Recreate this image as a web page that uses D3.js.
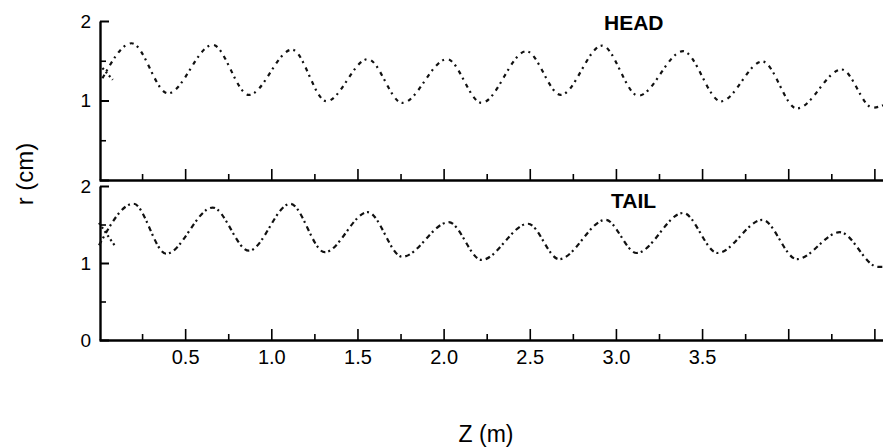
<!DOCTYPE html>
<html>
<head>
<meta charset="utf-8">
<script src="https://cdn.jsdelivr.net/npm/d3@7/dist/d3.min.js"></script>
<style>
  body { margin: 0; background: #fff; }
  text { font-family: "Liberation Sans", Arial, sans-serif; fill: #000; }
</style>
</head>
<body>
<svg id="chart" width="883" height="448"></svg>
<script>
// HEAD radius vs. axial position
const headZ = [0.02, 0.19, 0.40, 0.66, 0.87, 1.12, 1.32, 1.56, 1.76, 2.02, 2.22, 2.48, 2.68, 2.92, 3.13, 3.39, 3.61, 3.85, 4.05, 4.31, 4.49, 4.55];
const headR = [1.28, 1.72, 1.09, 1.70, 1.07, 1.64, 0.99, 1.52, 0.97, 1.52, 0.97, 1.62, 1.07, 1.69, 1.06, 1.62, 0.99, 1.49, 0.90, 1.39, 0.91, 0.94];
// short crossing trace at injection
const headStartZ = [0.02, 0.08];
const headStartR = [1.41, 1.26];

// TAIL
const tailZ = [0.00, 0.20, 0.39, 0.66, 0.87, 1.11, 1.31, 1.56, 1.76, 2.03, 2.22, 2.49, 2.67, 2.94, 3.12, 3.39, 3.59, 3.85, 4.05, 4.30, 4.52, 4.55];
const tailR = [1.23, 1.77, 1.12, 1.72, 1.16, 1.77, 1.14, 1.66, 1.08, 1.53, 1.04, 1.51, 1.05, 1.56, 1.13, 1.65, 1.13, 1.56, 1.05, 1.40, 0.95, 0.95];
const tailStartZ = [0.00, 0.09];
const tailStartR = [1.52, 1.23];

const xMajorTicks = [0.5, 1.0, 1.5, 2.0, 2.5, 3.0, 3.5, 4.0, 4.5];
const xMajorLabels = ["0.5", "1.0", "1.5", "2.0", "2.5", "3.0", "3.5", "", ""];
const xMinorTicks = [0.25, 0.75, 1.25, 1.75, 2.25, 2.75, 3.25, 3.75, 4.25];
const yMajorTicks = [0, 1, 2];
const yMinorTicks = [0.5, 1.5];

const svg = d3.select("#chart");

const x = d3.scaleLinear().domain([0, 4.55]).range([99, 883]);
const yHead = d3.scaleLinear().domain([0, 2]).range([180, 21]);
const yTail = d3.scaleLinear().domain([0, 2]).range([340, 186]);

const zip = (zs, rs) => zs.map((z, i) => [z, rs[i]]);

// bottom-style axes with inward (upward) ticks
const drawXAxis = (yPos, withLabels) => {
    const g = svg.append("g").attr("transform", `translate(0,${yPos})`);
    g.call(d3.axisBottom(x).tickValues(xMajorTicks)
        .tickSizeInner(-11).tickSizeOuter(0).tickPadding(10)
        .tickFormat((d, i) => withLabels ? xMajorLabels[i] : ""));
    g.select(".domain").attr("stroke-width", 2.6);
    g.selectAll(".tick line").attr("stroke-width", 1.6);
    g.selectAll(".tick text").attr("font-size", 20);
    svg.append("g").attr("transform", `translate(0,${yPos})`)
        .call(d3.axisBottom(x).tickValues(xMinorTicks)
            .tickSizeInner(-6).tickSizeOuter(0).tickFormat(""))
        .call(g => g.select(".domain").remove())
        .call(g => g.selectAll(".tick line").attr("stroke-width", 1.6));
};

const drawYAxis = (scale, labels) => {
    const g = svg.append("g").attr("transform", `translate(100,0)`);
    g.call(d3.axisLeft(scale).tickValues(yMajorTicks)
        .tickSizeInner(-9).tickSizeOuter(0).tickPadding(9)
        .tickFormat(d => labels.includes(d) ? d : ""));
    g.select(".domain").attr("stroke-width", 2.4);
    g.selectAll(".tick line").attr("stroke-width", 2);
    g.selectAll(".tick text").attr("font-size", 19);
    svg.append("g").attr("transform", `translate(100,0)`)
        .call(d3.axisLeft(scale).tickValues(yMinorTicks)
            .tickSizeInner(-6).tickSizeOuter(0).tickFormat(""))
        .call(g => g.select(".domain").remove())
        .call(g => g.selectAll(".tick line").attr("stroke-width", 1.6));
};

drawYAxis(yHead, [1, 2]);
drawYAxis(yTail, [0, 1, 2]);
drawXAxis(yHead(0), false);
drawXAxis(yTail(0), true);

const curve = (scale, zs, rs, dash) => {
    svg.append("path")
        .datum(zip(zs, rs))
        .attr("fill", "none")
        .attr("stroke", "#111")
        .attr("stroke-width", 2.2)
        .attr("stroke-dasharray", dash)
        .attr("d", d3.line().x(d => x(d[0])).y(d => scale(d[1])).curve(d3.curveMonotoneX));
};

curve(yHead, headZ, headR, "4 4 2 5");
curve(yHead, headStartZ, headStartR, "2 3");
curve(yTail, tailZ, tailR, "5 3 2 4");
curve(yTail, tailStartZ, tailStartR, "2 3");

svg.append("text").attr("x", 604).attr("y", 30)
    .attr("font-size", 21).attr("font-weight", "bold").text("HEAD");
svg.append("text").attr("x", 611).attr("y", 208)
    .attr("font-size", 21).attr("font-weight", "bold").text("TAIL");

svg.append("text")
    .attr("transform", "translate(33,174) rotate(-90)")
    .attr("text-anchor", "middle")
    .attr("font-size", 24)
    .text("r (cm)");

svg.append("text").attr("x", 486).attr("y", 442)
    .attr("text-anchor", "middle").attr("font-size", 23)
    .text("Z (m)");
</script>
</body>
</html>
